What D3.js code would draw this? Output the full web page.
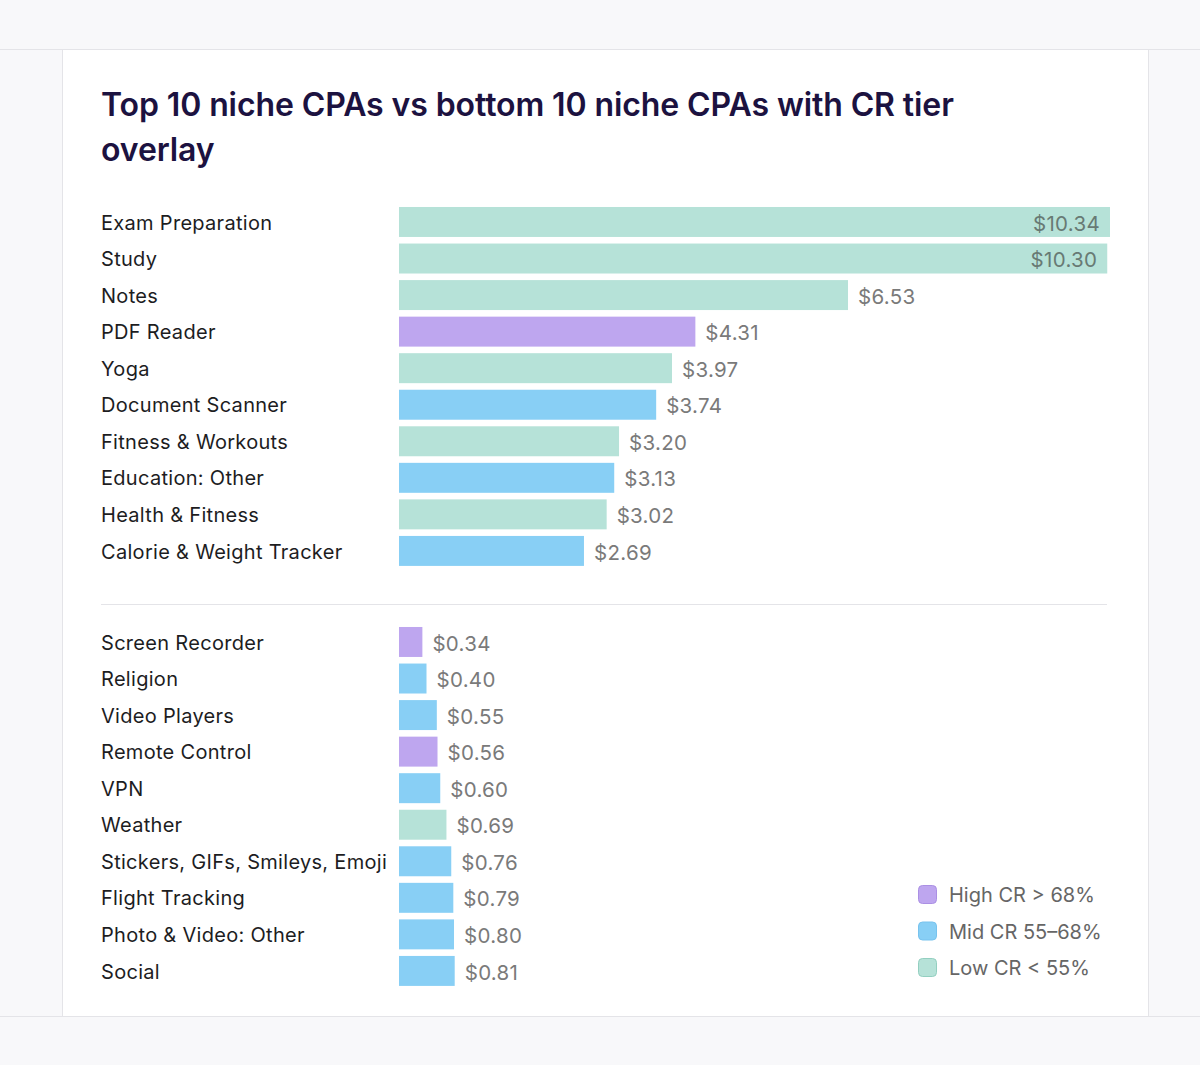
<!DOCTYPE html>
<html>
<head>
<meta charset="utf-8">
<script src="https://cdn.jsdelivr.net/npm/d3@7"></script>
<style>
  html, body { margin: 0; padding: 0; background: #f8f8fa; }
  svg { display: block; }
</style>
</head>
<body>
<script>
// Data
const topNiches = ["Exam Preparation", "Study", "Notes", "PDF Reader", "Yoga", "Document Scanner",
  "Fitness & Workouts", "Education: Other", "Health & Fitness", "Calorie & Weight Tracker"];
const topCpa = [10.34, 10.30, 6.53, 4.31, 3.97, 3.74, 3.20, 3.13, 3.02, 2.69];
const topTier = ["low", "low", "low", "high", "low", "mid", "low", "mid", "low", "mid"];

const bottomNiches = ["Screen Recorder", "Religion", "Video Players", "Remote Control", "VPN", "Weather",
  "Stickers, GIFs, Smileys, Emoji", "Flight Tracking", "Photo & Video: Other", "Social"];
const bottomCpa = [0.34, 0.40, 0.55, 0.56, 0.60, 0.69, 0.76, 0.79, 0.80, 0.81];
const bottomTier = ["high", "mid", "mid", "high", "mid", "low", "mid", "mid", "mid", "mid"];

const tiers = ["high", "mid", "low"];
const tierLabels = ["High CR > 68%", "Mid CR 55–68%", "Low CR < 55%"];

const W = 1200, H = 1065;
const font = "Inter, 'Noto Sans', sans-serif";

const svg = d3.select("body").append("svg")
  .attr("width", W)
  .attr("height", H);

// page frame: header strip, card, footer strip
svg.append("rect").attr("x", 0).attr("y", 0).attr("width", W).attr("height", H).attr("fill", "#f8f8fa");
svg.append("rect").attr("x", 62.5).attr("y", 49.5).attr("width", 1086).attr("height", 967)
  .attr("fill", "#fff").attr("stroke", "#e4e4e8");
svg.append("line").attr("x1", 0).attr("x2", W).attr("y1", 49.5).attr("y2", 49.5).attr("stroke", "#e4e4e8");
svg.append("line").attr("x1", 0).attr("x2", W).attr("y1", 1016.5).attr("y2", 1016.5).attr("stroke", "#e4e4e8");

// title
const title = svg.append("text")
  .attr("x", 101)
  .attr("font-family", font)
  .attr("font-size", 32)
  .attr("font-weight", 600)
  .attr("letter-spacing", -0.1)
  .attr("fill", "#1c1240");
title.append("tspan").attr("x", 101).attr("y", 116).text("Top 10 niche CPAs vs bottom 10 niche CPAs with CR tier");
title.append("tspan").attr("x", 101).attr("y", 161).text("overlay");

const color = d3.scaleOrdinal().domain(tiers).range(["#bea6ef", "#88cff5", "#b6e2d8"]);
const strokeColor = d3.scaleOrdinal().domain(tiers).range(["#ab90e4", "#78c3ee", "#93cfc0"]);

// shared x scale so top and bottom bars are comparable
const x = d3.scaleLinear()
  .domain([0, 10.34])
  .range([399, 1110]);

const rightLimit = 1107;

function drawGroup(names, values, tierList, y0) {
  const rows = names.map((n, i) => ({ name: n, value: values[i], tier: tierList[i] }));
  const y = d3.scaleBand()
    .domain(names)
    .range([y0, y0 + 365.5])
    .paddingInner(0.18)
    .paddingOuter(0.09);

  const g = svg.append("g");

  g.selectAll(".label")
    .data(rows)
    .join("text")
    .attr("class", "label")
    .attr("x", 101)
    .attr("y", d => y(d.name) + y.bandwidth() / 2)
    .attr("dy", "0.38em")
    .attr("font-family", font)
    .attr("font-size", 20)
    .attr("letter-spacing", 0.3)
    .attr("fill", "#1d1d1f")
    .text(d => d.name);

  g.selectAll(".bar")
    .data(rows)
    .join("rect")
    .attr("class", "bar")
    .attr("x", x(0))
    .attr("y", d => y(d.name))
    .attr("width", d => x(d.value) - x(0))
    .attr("height", y.bandwidth())
    .attr("fill", d => color(d.tier));

  const vals = g.selectAll(".value")
    .data(rows)
    .join("text")
    .attr("class", "value")
    .attr("y", d => y(d.name) + y.bandwidth() / 2)
    .attr("dy", "0.42em")
    .attr("font-family", font)
    .attr("font-size", 20.5)
    .attr("letter-spacing", 0.3)
    .text(d => "$" + d.value.toFixed(2));

  // put the value inside the bar when it would run past the card
  vals.each(function(d) {
    const t = d3.select(this);
    const w = this.getComputedTextLength();
    if (x(d.value) + 10 + w > rightLimit) {
      t.attr("x", x(d.value) - 10).attr("text-anchor", "end").attr("fill", "#687a74");
    } else {
      t.attr("x", x(d.value) + 10).attr("fill", "#7a7a7a");
    }
  });
}

drawGroup(topNiches, topCpa, topTier, 203.7);

svg.append("line")
  .attr("x1", 101).attr("x2", 1107)
  .attr("y1", 604.5).attr("y2", 604.5)
  .attr("stroke", "#e4e4e8");

drawGroup(bottomNiches, bottomCpa, bottomTier, 623.7);

// legend
const legend = svg.append("g").attr("transform", "translate(918, 885)");
const ly = d3.scaleBand().domain(tiers).range([0, 109.5]);
tiers.forEach((t, i) => {
  legend.append("rect")
    .attr("x", 0.5)
    .attr("y", ly(t) + 0.5)
    .attr("width", 18)
    .attr("height", 18)
    .attr("rx", 4)
    .attr("fill", color(t))
    .attr("stroke", strokeColor(t));
  legend.append("text")
    .attr("x", 31)
    .attr("y", ly(t) + 9.5)
    .attr("dy", "0.38em")
    .attr("font-family", font)
    .attr("font-size", 20)
    .attr("fill", "#666")
    .text(tierLabels[i]);
});
</script>
</body>
</html>
